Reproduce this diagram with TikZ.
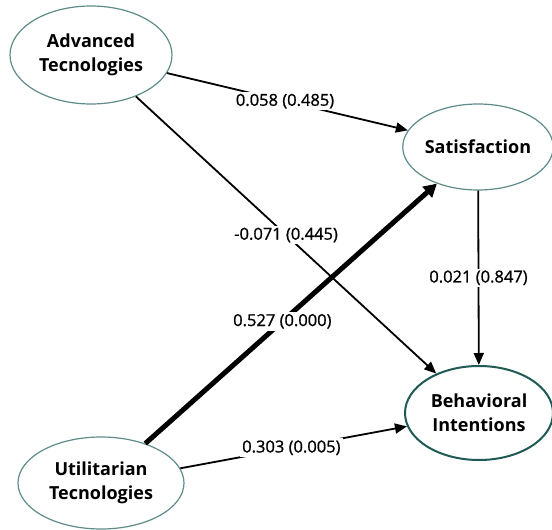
\documentclass[tikz,border=0pt]{standalone}
\usepackage{fontspec}
\setmainfont{Open Sans}
\newfontfamily\labfont[FakeBold=1]{Open Sans}
\usetikzlibrary{arrows.meta,shapes.geometric}
\definecolor{ellgray}{HTML}{5E8C8A}
\definecolor{elldark}{HTML}{1F5A55}
\begin{document}
\begin{tikzpicture}[x=1pt,y=-1pt,
  var/.style={draw=ellgray,line width=1.2pt,ellipse,fill=white,inner sep=0pt,
    align=center,font=\fontsize{18}{24}\selectfont\bfseries},
  path/.style={draw=black,line width=1.8pt,-{Triangle[length=12pt,width=10pt]}},
  thick path/.style={draw=black,line width=5pt,-{Triangle[length=13pt,width=14pt]}},
  lab/.style={fill=white,inner sep=2pt,font=\labfont\fontsize{16.5}{19}\selectfont}]
\useasboundingbox (0,0) rectangle (552,530);
\node[var,minimum width=162pt,minimum height=98pt] (adv) at (91,55) {Advanced\\Tecnologies};
\node[var,minimum width=150pt,minimum height=86pt] (sat) at (478,147) {Satisfaction};
\node[var,draw=elldark,line width=2pt,minimum width=148pt,minimum height=94pt] (bi) at (479,413) {Behavioral\\Intentions};
\node[var,minimum width=166pt,minimum height=92pt] (util) at (101,483) {Utilitarian\\Tecnologies};

\draw[path] (adv) -- node[lab,pos=0.49] {0.058 (0.485)} (sat);
\draw[path] (adv) -- node[lab,pos=0.5] {-0.071 (0.445)} (bi);
\draw[thick path] (util) -- node[lab,pos=0.47] {0.527 (0.000)} (sat);
\draw[path] (util) -- node[lab,pos=0.49] {0.303 (0.005)} (bi);
\draw[path] (sat) -- node[lab] {0.021 (0.847)} (bi);
\end{tikzpicture}
\end{document}
